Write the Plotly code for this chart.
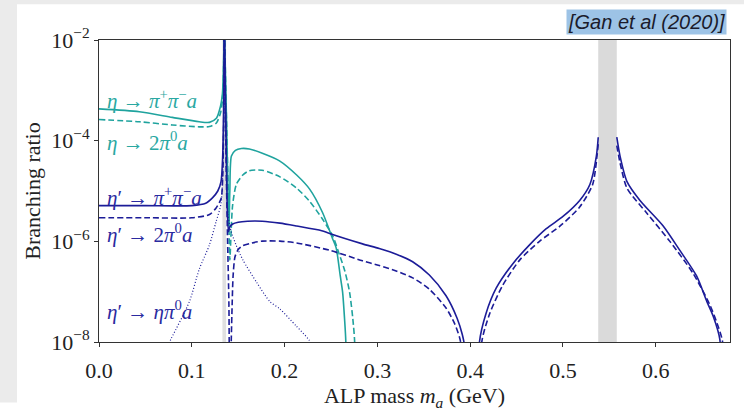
import plotly.graph_objects as go

# ---------------- data ----------------
# eta -> pi+ pi- a  (solid teal)
eta_pp_x1 = [0.0, 0.0435, 0.079, 0.108, 0.119, 0.1265, 0.131, 0.133, 0.134, 0.135]
eta_pp_y1 = [4.28e-4, 3.76e-4, 2.9e-4, 2.37e-4, 2.31e-4, 2.78e-4, 4.87e-4, 8.5e-4, 2.21e-3, 1.5e-2]
eta_pp_x2 = [0.1352, 0.1373, 0.139, 0.140, 0.141, 0.1427, 0.147, 0.1535, 0.162, 0.176, 0.1945,
             0.213, 0.227, 0.241, 0.2515, 0.2555, 0.260, 0.2625, 0.2646, 0.266, 0.2665]
eta_pp_y2 = [1.5e-2, 3.16e-4, 1.0e-5, 1.78e-6, 1.0e-5, 4.94e-5, 6.4e-5, 6.98e-5, 6.83e-5, 5.62e-5, 3.98e-5,
             2.08e-5, 1.09e-5, 3.7e-6, 1.155e-6, 7.5e-7, 2.05e-7, 9.9e-8, 2.94e-8, 1.0e-8, 1e-10]

# eta -> 2pi0 a  (dashed teal)
eta_00_x1 = [0.0, 0.0435, 0.079, 0.108, 0.119, 0.1265, 0.131, 0.133, 0.134, 0.135]
eta_00_y1 = [2.63e-4, 2.37e-4, 2.05e-4, 1.88e-4, 1.91e-4, 2.24e-4, 3.6e-4, 6.3e-4, 1.63e-3, 1.5e-2]
eta_00_x2 = [0.1352, 0.1375, 0.1395, 0.141, 0.1425, 0.144, 0.148, 0.155, 0.162, 0.176, 0.195, 0.213,
             0.227, 0.241, 0.252, 0.259, 0.265, 0.270, 0.2735, 0.2755, 0.276]
eta_00_y2 = [1.5e-2, 2.05e-4, 6.5e-6, 4.28e-7, 1.78e-6, 5.24e-6, 1.35e-5, 2.08e-5, 2.53e-5, 2.59e-5, 1.91e-5, 1.14e-5,
             6.22e-6, 2.74e-6, 1.26e-6, 5.5e-7, 2.55e-7, 9.9e-8, 2.94e-8, 1.0e-8, 1e-10]

# eta' -> pi+ pi- a  (solid navy)
etap_pp_x1 = [0.0, 0.05, 0.1, 0.115, 0.1225, 0.128, 0.1315, 0.1333, 0.1345, 0.135]
etap_pp_y1 = [5.12e-6, 5.12e-6, 5.12e-6, 5.7e-6, 7.4e-6, 1.0e-5, 1.54e-5, 4.94e-5, 7.5e-4, 1.5e-2]
etap_pp_x2 = [0.1352, 0.137, 0.138, 0.1395, 0.141, 0.144, 0.15, 0.16, 0.176, 0.195, 0.213, 0.24, 0.2485,
              0.284, 0.302, 0.321, 0.338, 0.356, 0.374, 0.386, 0.3915, 0.394, 0.395]
etap_pp_y2 = [1.5e-2, 8.66e-5, 6.5e-6, 1.56e-6, 1.94e-6, 2.21e-6, 2.4e-6, 2.51e-6, 2.51e-6, 2.3e-6, 2.02e-6, 1.63e-6, 1.43e-6,
              8.9e-7, 7.2e-7, 5.5e-7, 3.93e-7, 2.14e-7, 8.3e-8, 2.94e-8, 1.41e-8, 8.05e-9, 1e-10]
etap_pp_x3 = [0.409, 0.410, 0.417, 0.428, 0.446, 0.464, 0.482, 0.500, 0.518, 0.529, 0.536, 0.538]
etap_pp_y3 = [1e-10, 1.0e-8, 3.65e-8, 1.17e-7, 3.6e-7, 8.5e-7, 1.78e-6, 3.12e-6, 6.5e-6, 1.35e-5, 4.94e-5, 1.17e-4]
etap_pp_x4 = [0.558, 0.5615, 0.569, 0.583, 0.608, 0.626, 0.644, 0.655, 0.662, 0.669, 0.6705]
etap_pp_y4 = [1.17e-4, 4.94e-5, 1.54e-5, 6.5e-6, 2.02e-6, 6.6e-7, 2.05e-7, 6.4e-8, 3.2e-8, 1.14e-8, 1e-10]

# eta' -> 2pi0 a  (dashed navy)
etap_00_x1 = [0.0, 0.05, 0.1, 0.119, 0.1262, 0.1316, 0.1333, 0.1345, 0.135]
etap_00_y1 = [2.94e-6, 2.94e-6, 2.94e-6, 3.4e-6, 4.6e-6, 7.08e-6, 1.91e-5, 3.16e-4, 1.5e-2]
etap_00_x2 = [0.1352, 0.137, 0.1385, 0.140, 0.141, 0.1425, 0.1435, 0.1445, 0.1465, 0.150, 0.155, 0.165,
              0.176, 0.195, 0.213, 0.249, 0.284, 0.302, 0.321, 0.338, 0.356, 0.374, 0.383, 0.3885, 0.3905, 0.392]
etap_00_y2 = [1.5e-2, 3.65e-5, 1.155e-6, 5.62e-8, 1e-10, 1.0e-8, 5.62e-8, 2.05e-7, 4.87e-7, 6.9e-7, 8.2e-7, 9.3e-7,
              1.01e-6, 1.01e-6, 9.3e-7, 6.6e-7, 4.1e-7, 3.3e-7, 2.55e-7, 1.88e-7, 1.12e-7, 4.73e-8, 2.37e-8, 1.24e-8, 8.05e-9, 1e-10]
etap_00_x3 = [0.411, 0.4125, 0.421, 0.435, 0.4535, 0.475, 0.497, 0.518, 0.532, 0.537, 0.538]
etap_00_y3 = [1e-10, 1.0e-8, 3.65e-8, 1.33e-7, 4.28e-7, 1.01e-6, 2.02e-6, 4.8e-6, 1.35e-5, 5.62e-5, 8.66e-5]
etap_00_x4 = [0.558, 0.5615, 0.569, 0.590, 0.615, 0.640, 0.658, 0.666, 0.672, 0.673]
etap_00_y4 = [7.94e-5, 3.65e-5, 1.14e-5, 3.7e-6, 1.01e-6, 2.34e-7, 5.62e-8, 2.37e-8, 1.0e-8, 1e-10]

# eta' -> eta pi0 a  (dotted navy)
etap_eta_x1 = [0.065, 0.0775, 0.0975, 0.108, 0.119, 0.126, 0.1316, 0.1335, 0.1345, 0.135]
etap_eta_y1 = [4e-9, 1.14e-8, 6.4e-8, 2.78e-7, 8.5e-7, 2.4e-6, 5.7e-6, 3.65e-5, 4.87e-4, 1.5e-2]
etap_eta_x2 = [0.1352, 0.137, 0.139, 0.1425, 0.148, 0.155, 0.170, 0.184, 0.195, 0.2125, 0.2265, 0.235]
etap_eta_y2 = [1.5e-2, 8.66e-5, 3.4e-6, 1.56e-6, 8.2e-7, 4.28e-7, 1.52e-7, 6.4e-8, 4.53e-8, 2.08e-8, 1.09e-8, 5.2e-9]

# shaded mass windows (pi0 and eta masses)
bands = [(0.133, 0.137), (0.538, 0.558)]

x_ticks = [0.0, 0.1, 0.2, 0.3, 0.4, 0.5, 0.6]
x_tick_text = ["0.0", "0.1", "0.2", "0.3", "0.4", "0.5", "0.6"]
y_ticks = [1e-8, 1e-6, 1e-4, 1e-2]
y_tick_text = ["10<sup>−8</sup>", "10<sup>−6</sup>", "10<sup>−4</sup>", "10<sup>−2</sup>"]

labels = [
    ("<i>η</i> → <i>π</i><sup>+</sup><i>π</i><sup>−</sup><i>a</i>", -3.18, "teal"),
    ("<i>η</i> → 2<i>π</i><sup>0</sup><i>a</i>", -4.01, "teal"),
    ("<i>η</i>′ → <i>π</i><sup>+</sup><i>π</i><sup>−</sup><i>a</i>", -5.1, "navy"),
    ("<i>η</i>′ → 2<i>π</i><sup>0</sup><i>a</i>", -5.84, "navy"),
    ("<i>η</i>′ → <i>ηπ</i><sup>0</sup><i>a</i>", -7.38, "navy"),
]

# ---------------- styling ----------------
TEAL = "#1fa39e"
NAVY = "#1c1c98"
colors = {"teal": "#2aa8a2", "navy": "#2a2aa0"}
SERIF = "Liberation Serif"

fig = go.Figure()

def add(xs, ys, color, dash, width=1.6):
    fig.add_trace(go.Scatter(x=xs, y=ys, mode="lines", showlegend=False, hoverinfo="skip",
                             line=dict(color=color, width=width, dash=dash, shape="spline", smoothing=0.7)))

for xs, ys in [(eta_pp_x1, eta_pp_y1), (eta_pp_x2, eta_pp_y2)]:
    add(xs, ys, TEAL, "solid")
for xs, ys in [(eta_00_x1, eta_00_y1), (eta_00_x2, eta_00_y2)]:
    add(xs, ys, TEAL, "6px,3px")
for xs, ys in [(etap_pp_x1, etap_pp_y1), (etap_pp_x2, etap_pp_y2), (etap_pp_x3, etap_pp_y3), (etap_pp_x4, etap_pp_y4)]:
    add(xs, ys, NAVY, "solid")
for xs, ys in [(etap_00_x1, etap_00_y1), (etap_00_x2, etap_00_y2), (etap_00_x3, etap_00_y3), (etap_00_x4, etap_00_y4)]:
    add(xs, ys, NAVY, "6px,3px")
for xs, ys in [(etap_eta_x1, etap_eta_y1), (etap_eta_x2, etap_eta_y2)]:
    add(xs, ys, NAVY, "1px,2px", width=1.2)

shapes = []
for i, (a, b) in enumerate(bands):
    shapes.append(dict(type="rect", xref="x", yref="paper", x0=a, x1=b, y0=0, y1=1,
                       fillcolor="#e0e0e0" if i == 0 else "#dadada", line=dict(width=0), layer="below"))
# slide chrome: grey strip on the left and at the top
shapes.append(dict(type="rect", xref="paper", yref="paper", x0=-0.2, x1=(17 - 99) / 631, y0=-0.2, y1=1.2,
                   fillcolor="#ebebeb", line=dict(width=0), layer="below"))
shapes.append(dict(type="rect", xref="paper", yref="paper", x0=-0.2, x1=1.1, y0=1 + 38 / 320, y1=1.2,
                   fillcolor="#ebebeb", line=dict(width=0), layer="below"))

annotations = []
for text, ly, c in labels:
    annotations.append(dict(x=0.006, y=ly, xref="x", yref="y", text=text, showarrow=False,
                            xanchor="left", yanchor="middle",
                            font=dict(family=SERIF, size=21, color=colors[c])))
annotations.append(dict(x=(727 - 99) / 631, y=1 + (40 - 21) / 320, xref="paper", yref="paper",
                        text="<i>[Gan et al (2020)]</i>", showarrow=False, xanchor="right", yanchor="middle",
                        bgcolor="#9dc3e6", borderpad=1,
                        font=dict(family="Liberation Sans", size=20, color="#1b1b2b")))

fig.update_layout(
    width=744, height=411,
    margin=dict(l=99, r=14, t=40, b=51),
    paper_bgcolor="white", plot_bgcolor="white",
    shapes=shapes, annotations=annotations,
    font=dict(family=SERIF, size=22, color="#222"),
)
fig.update_xaxes(range=[0.0, 0.68], tickvals=x_ticks, ticktext=x_tick_text,
                 showgrid=False, zeroline=False, showline=True, linecolor="#333", linewidth=1,
                 mirror=True, ticks="outside", ticklen=4, tickcolor="#333", ticklabelstandoff=5,
                 tickfont=dict(family=SERIF, size=22, color="#222"),
                 title=dict(text="ALP mass <i>m<sub>a</sub></i> (GeV)", standoff=0,
                            font=dict(family=SERIF, size=22, color="#222")))
fig.update_yaxes(type="log", range=[-8, -2], tickvals=y_ticks, ticktext=y_tick_text,
                 showgrid=False, zeroline=False, showline=True, linecolor="#333", linewidth=1,
                 mirror=True, ticks="outside", ticklen=4, tickcolor="#333",
                 tickfont=dict(family=SERIF, size=22, color="#222"),
                 title=dict(text="Branching ratio", standoff=4,
                            font=dict(family=SERIF, size=22, color="#222")))

fig.write_html("out.html")
